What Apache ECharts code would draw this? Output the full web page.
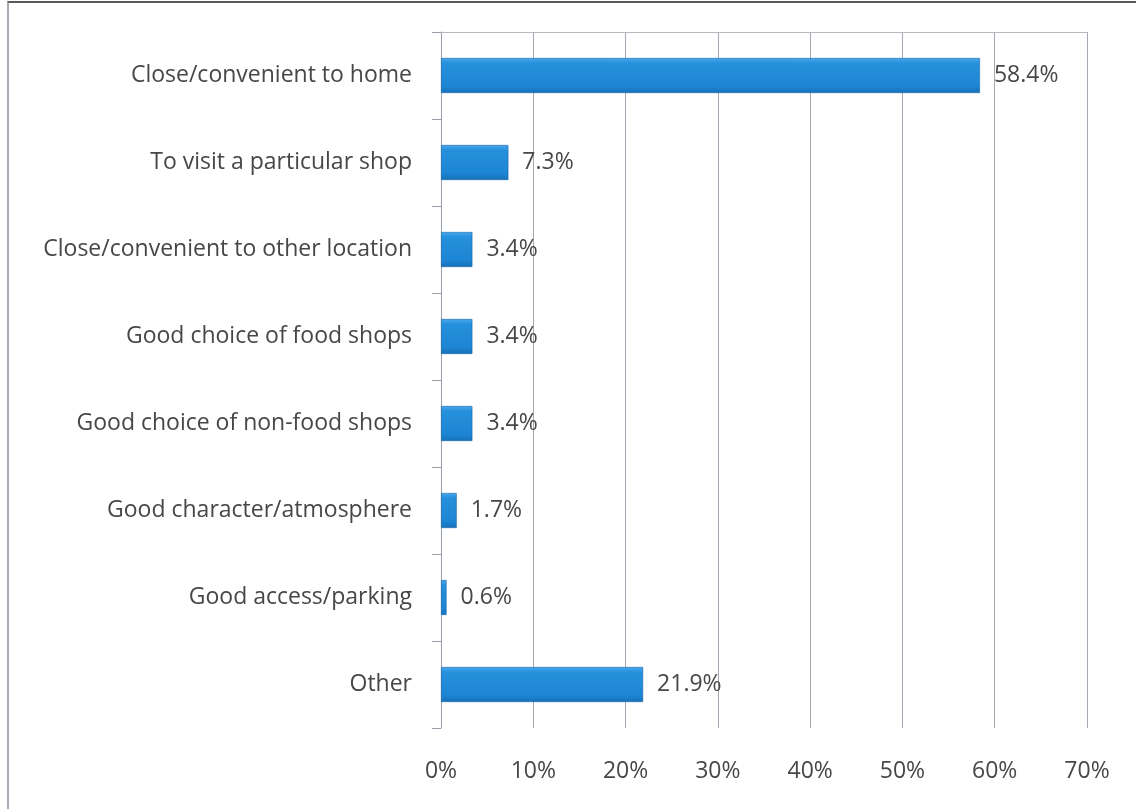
<!DOCTYPE html>
<html>
<head>
<meta charset="utf-8">
<script src="https://cdn.jsdelivr.net/npm/echarts@6/dist/echarts.min.js"></script>
<style>
  html, body { margin: 0; padding: 0; background: #fff; }
  #chart { width: 1136px; height: 809px; }
  #frame {
    position: absolute; left: 7px; top: 1px; width: 1129px; height: 808px;
    border-top: 2px solid #5a5a5a; border-left: 2px solid #a9a9b3;
    box-sizing: border-box; pointer-events: none;
  }
</style>
</head>
<body>
<div id="chart"></div>
<div id="frame"></div>
<script>
// Reasons for visiting, share of respondents (%)
const categories = [
  'Close/convenient to home',
  'To visit a particular shop',
  'Close/convenient to other location',
  'Good choice of food shops',
  'Good choice of non-food shops',
  'Good character/atmosphere',
  'Good access/parking',
  'Other'
];
const shares = [58.4, 7.3, 3.4, 3.4, 3.4, 1.7, 0.6, 21.9];
const axisMax = 70;
const axisStep = 10;

const font = 'Open Sans, Liberation Sans, sans-serif';
const textColor = '#474747';
const chart = echarts.init(document.getElementById('chart'), null, { renderer: 'canvas' });

const barFill = new echarts.graphic.LinearGradient(0, 0, 0, 1, [
  { offset: 0, color: '#4aa8ec' },
  { offset: 0.15, color: '#2590dc' },
  { offset: 0.8, color: '#1d86d4' },
  { offset: 1, color: '#1670b8' }
]);

chart.setOption({
  animation: false,
  grid: { left: 441, right: 49, top: 32, bottom: 81, containLabel: false },
  xAxis: [{
    type: 'value', min: 0, max: axisMax, interval: axisStep,
    axisLine: { show: false }, axisTick: { show: false },
    splitLine: { show: true, lineStyle: { color: '#a4a9b4', width: 1 } },
    axisLabel: {
      margin: 32, color: textColor, fontFamily: font, fontSize: 23,
      formatter: v => v + '%'
    }
  }, {
    // thin rule along the top of the plot
    type: 'value', position: 'top', min: 0, max: axisMax, interval: axisStep,
    axisLine: { show: true, lineStyle: { color: '#b4b8c0', width: 1 } },
    axisTick: { show: false }, axisLabel: { show: false }, splitLine: { show: false }
  }],
  yAxis: {
    type: 'category', data: categories, inverse: true,
    axisLine: { show: true, lineStyle: { color: '#9a9ea8', width: 1 } },
    axisTick: { show: true, length: 9, lineStyle: { color: '#9a9ea8' } },
    axisLabel: { margin: 29, color: textColor, fontFamily: font, fontSize: 23 }
  },
  series: [{
    type: 'bar', data: shares, barWidth: 35,
    itemStyle: { color: barFill, borderColor: '#1866aa', borderWidth: 0.6 },
    label: {
      show: true, position: 'right', distance: 14,
      color: textColor, fontFamily: font, fontSize: 23,
      formatter: p => p.value.toFixed(1) + '%'
    }
  }]
});
</script>
</body>
</html>
